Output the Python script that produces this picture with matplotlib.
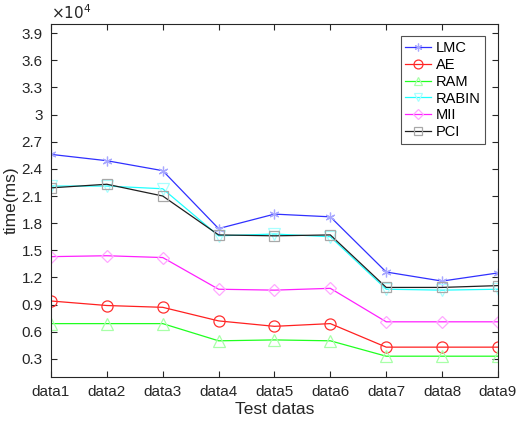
import matplotlib
matplotlib.use("Agg")
import matplotlib.pyplot as plt
import numpy as np

plt.rcParams['font.family'] = ['Liberation Sans', 'DejaVu Sans']

categories = ['data1', 'data2', 'data3', 'data4', 'data5', 'data6', 'data7', 'data8', 'data9']
LMC   = [25600, 24900, 23800, 17400, 19000, 18700, 12600, 11600, 12500]
AE    = [9400, 8900, 8700, 7200, 6600, 6900, 4300, 4300, 4300]
RAM   = [6900, 6900, 6900, 5000, 5100, 5000, 3300, 3300, 3300]
RABIN = [22100, 22100, 21800, 16600, 16800, 16500, 10700, 10600, 10700]
MII   = [14300, 14400, 14200, 10700, 10600, 10800, 7100, 7100, 7100]
PCI   = [21900, 22300, 21000, 16700, 16600, 16700, 10900, 10900, 11100]
yticks = [3000, 6000, 9000, 12000, 15000, 18000, 21000, 24000, 27000, 30000, 33000, 36000, 39000]

series = [
    ('LMC', LMC, (6, 2, 0), '#3030ff', '#a8a8ff', 7),
    ('AE', AE, 'o', '#ff2020', '#ff3030', 8),
    ('RAM', RAM, '^', '#20ff20', '#a8ffa8', 8),
    ('RABIN', RABIN, 'v', '#20ffff', '#a8ffff', 8),
    ('MII', MII, 'D', '#ff20ff', '#ffa8ff', 6.5),
    ('PCI', PCI, 's', '#202020', '#a8a8a8', 7),
]

fig = plt.figure(figsize=(5.16, 4.22), dpi=100)
ax = fig.add_axes([0.0988, 0.1066, 0.8662, 0.8364])
x = np.arange(1, len(categories) + 1)
for name, vals, mk, lc, mc, ms in series:
    ax.plot(x, vals, color=lc, lw=0.9, marker=mk, ms=ms, mfc='none', mec=mc, mew=0.9, label=name)

ax.set_xlim(1, 9)
ax.set_ylim(1000, 40000)
ax.set_xticks(x)
ax.set_xticklabels(categories)
ax.set_yticks(yticks)
ax.set_yticklabels([f'{v/10000:g}' for v in yticks])
ax.tick_params(direction='in', length=4, width=0.8, labelsize=11, colors='#262626',
               top=True, right=True, pad=6)
for s in ax.spines.values():
    s.set_color('#262626')
    s.set_linewidth(0.8)
ax.set_xlabel('Test datas', fontsize=12.5, color='#262626', labelpad=2)
ax.set_ylabel('time(ms)', fontsize=12.5, color='#262626', labelpad=2)
ax.text(0.0, 1.005, r'$\times10^{4}$', transform=ax.transAxes, fontsize=11,
        color='#262626', ha='left', va='bottom', family='Liberation Sans')

leg = ax.legend(loc='upper right', bbox_to_anchor=(0.971, 0.965), fontsize=10.5, frameon=True,
                fancybox=False, edgecolor='#262626', handlelength=1.8, handletextpad=0.3,
                borderpad=0.3, labelspacing=0.2, borderaxespad=0, markerscale=0.8)
leg.get_frame().set_linewidth(0.8)

fig.savefig('out.png', dpi=100)
